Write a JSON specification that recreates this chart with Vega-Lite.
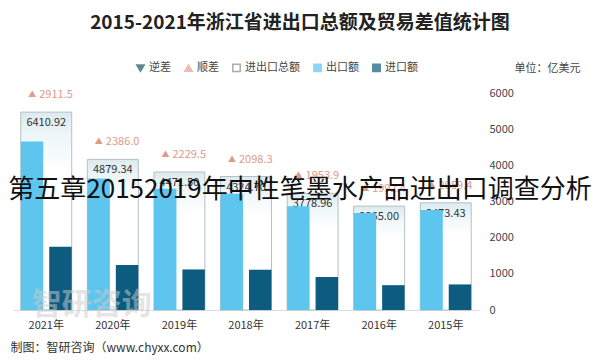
{
  "$schema": "https://vega.github.io/schema/vega-lite/v6.json",
  "width": 466,
  "height": 217,
  "autosize": {"type": "none"},
  "padding": {"left": 13, "top": 93, "right": 121, "bottom": 50},
  "background": "white",
  "config": {"view": {"stroke": null}, "font": "Noto Sans CJK SC"},
  "title": {
    "text": "2015-2021年浙江省进出口总额及贸易差值统计图",
    "fontSize": 19,
    "fontWeight": "bold",
    "color": "#222222",
    "anchor": "middle",
    "frame": "group",
    "baseline": "middle",
    "dx": 54,
    "offset": 20
  },
  "datasets": {
    "trade": [
      {"year": "2021年", "出口额": 4661.2, "进口额": 1749.7, "total": 6410.92, "surplus": 2911.5},
      {"year": "2020年", "出口额": 3632.7, "进口额": 1246.7, "total": 4879.34, "surplus": 2386.0},
      {"year": "2019年", "出口额": 3350.5, "进口额": 1121.0, "total": 4471.5, "surplus": 2229.5},
      {"year": "2018年", "出口额": 3211.5, "进口额": 1113.2, "total": 4324.7, "surplus": 2098.3},
      {"year": "2017年", "出口额": 2866.4, "进口额": 912.5, "total": 3778.96, "surplus": 1953.9},
      {"year": "2016年", "出口额": 2678.7, "进口额": 686.3, "total": 3365.0, "surplus": 1992.4},
      {"year": "2015年", "出口额": 2766.4, "进口额": 707.0, "total": 3473.43, "surplus": 2059.4}
    ],
    "notes": [
      {"kind": "overlay", "text": "第五章20152019年中性笔墨水产品进出口调查分析", "year": "2018年", "level": 3318},
      {"kind": "watermark", "text": "智研咨询", "year": "2020年", "level": 140}
    ]
  },
  "resolve": {"scale": {"y": "independent"}},
  "encoding": {
    "x": {
      "field": "year",
      "type": "nominal",
      "sort": ["2021年", "2020年", "2019年", "2018年", "2017年", "2016年", "2015年"],
      "scale": {"paddingInner": 0.235, "paddingOuter": 0.117},
      "axis": {
        "labelAngle": 0,
        "labelFontSize": 11,
        "labelColor": "#333333",
        "labelPadding": 9,
        "ticks": false,
        "domain": true,
        "domainColor": "#dddddd",
        "title": "制图：智研咨询（www.chyxx.com）",
        "titleFontSize": 12,
        "titleFontWeight": "normal",
        "titleColor": "#333333",
        "titleAnchor": "start",
        "titleAlign": "left",
        "titleBaseline": "middle",
        "titleX": -3,
        "titleY": 37
      }
    }
  },
  "layer": [
    {
      "data": {"name": "trade"},
      "encoding": {
        "y": {"field": "total", "type": "quantitative", "scale": {"domain": [0, 7030]}, "axis": null}
      },
      "layer": [
        {
          "mark": {
            "type": "bar",
            "stroke": "#b5c0c4",
            "strokeWidth": 1,
            "fill": {
              "gradient": "linear",
              "x1": 0, "y1": 0, "x2": 0, "y2": 1,
              "stops": [
                {"offset": 0, "color": "#dcebef"},
                {"offset": 0.12, "color": "#eef6f8"},
                {"offset": 0.3, "color": "#ffffff"},
                {"offset": 1, "color": "#ffffff"}
              ]
            }
          }
        },
        {
          "mark": {"type": "text", "dy": 11, "fontSize": 11, "color": "#333333", "baseline": "middle"},
          "encoding": {"text": {"field": "total", "type": "quantitative", "format": ".2f"}}
        },
        {
          "mark": {"type": "text", "dy": -17, "dx": -7, "align": "left", "fontSize": 11, "color": "#e09a88", "baseline": "middle"},
          "encoding": {"text": {"field": "surplus", "type": "quantitative", "format": ".1f"}}
        },
        {
          "mark": {"type": "text", "dy": -17, "dx": -14, "align": "center", "fontSize": 8, "color": "#e09a88", "baseline": "middle", "text": "▲"}
        }
      ]
    },
    {
      "data": {"name": "trade"},
      "transform": [{"fold": ["出口额", "进口额"], "as": ["series", "value"]}],
      "encoding": {
        "y": {
          "field": "value",
          "type": "quantitative",
          "scale": {"domain": [0, 6000]},
          "axis": {
            "values": [0, 1000, 2000, 3000, 4000, 5000, 6000],
            "format": "d",
            "orient": "right",
            "domain": false,
            "ticks": false,
            "grid": false,
            "labelFontSize": 11,
            "labelColor": "#444444",
            "labelPadding": 10,
            "title": "单位：亿美元",
            "titleAngle": 0,
            "titleFontSize": 11,
            "titleFontWeight": "normal",
            "titleColor": "#444444",
            "titleAlign": "right",
            "titleBaseline": "middle",
            "titleX": 101,
            "titleY": -25
          }
        }
      },
      "layer": [
        {
          "mark": {"type": "bar"},
          "encoding": {
            "xOffset": {"field": "series", "type": "nominal", "scale": {"domain": ["出口额", "进口额"], "paddingInner": 0.21}},
            "fill": {
              "field": "series",
              "type": "nominal",
              "scale": {
                "domain": ["逆差", "顺差", "进出口总额", "出口额", "进口额"],
                "range": ["#1d5566", "#e3a08e", "#ffffff", "#5ec5ee", "#0d5c80"]
              },
              "legend": {
                "title": null,
                "orient": "none",
                "direction": "horizontal",
                "legendX": 122,
                "legendY": -31,
                "labelFontSize": 11,
                "labelColor": "#444444",
                "symbolSize": 55,
                "columnPadding": 10,
                "labelOffset": 3
              }
            }
          }
        },
        {
          "transform": [{"filter": "datum.series === '逆差'"}],
          "mark": {"type": "point", "filled": true},
          "encoding": {
            "fill": {
              "field": "series",
              "type": "nominal",
              "scale": {
                "domain": ["逆差", "顺差", "进出口总额", "出口额", "进口额"],
                "range": ["#1d5566", "#e3a08e", "#ffffff", "#5ec5ee", "#0d5c80"]
              },
              "legend": {
                "title": null,
                "orient": "none",
                "direction": "horizontal",
                "legendX": 122,
                "legendY": -31,
                "labelFontSize": 11,
                "labelColor": "#444444",
                "symbolSize": 55,
                "columnPadding": 10,
                "labelOffset": 3
              }
            },
            "stroke": {
              "field": "series",
              "type": "nominal",
              "scale": {
                "domain": ["逆差", "顺差", "进出口总额", "出口额", "进口额"],
                "range": ["#1d5566", "#e3a08e", "#888888", "#5ec5ee", "#0d5c80"]
              }
            },
            "shape": {
              "field": "series",
              "type": "nominal",
              "scale": {
                "domain": ["逆差", "顺差", "进出口总额", "出口额", "进口额"],
                "range": ["triangle-down", "triangle-up", "square", "square", "square"]
              }
            }
          }
        }
      ]
    },
    {
      "data": {"name": "notes"},
      "transform": [{"filter": "datum.kind === 'watermark'"}],
      "mark": {"type": "text", "fontSize": 30, "fontWeight": "bold", "color": "#cccccc", "opacity": 0.5, "dx": -21, "baseline": "middle"},
      "encoding": {
        "x": {"field": "year", "type": "nominal"},
        "y": {"field": "level", "type": "quantitative", "scale": {"domain": [0, 6000]}, "axis": null},
        "text": {"field": "text"}
      }
    },
    {
      "data": {"name": "notes"},
      "transform": [{"filter": "datum.kind === 'overlay'"}],
      "mark": {"type": "text", "fontSize": 26, "color": "#111111", "dx": 54, "baseline": "middle"},
      "encoding": {
        "x": {"field": "year", "type": "nominal"},
        "y": {"field": "level", "type": "quantitative", "scale": {"domain": [0, 6000]}, "axis": null},
        "text": {"field": "text"}
      }
    }
  ]
}
